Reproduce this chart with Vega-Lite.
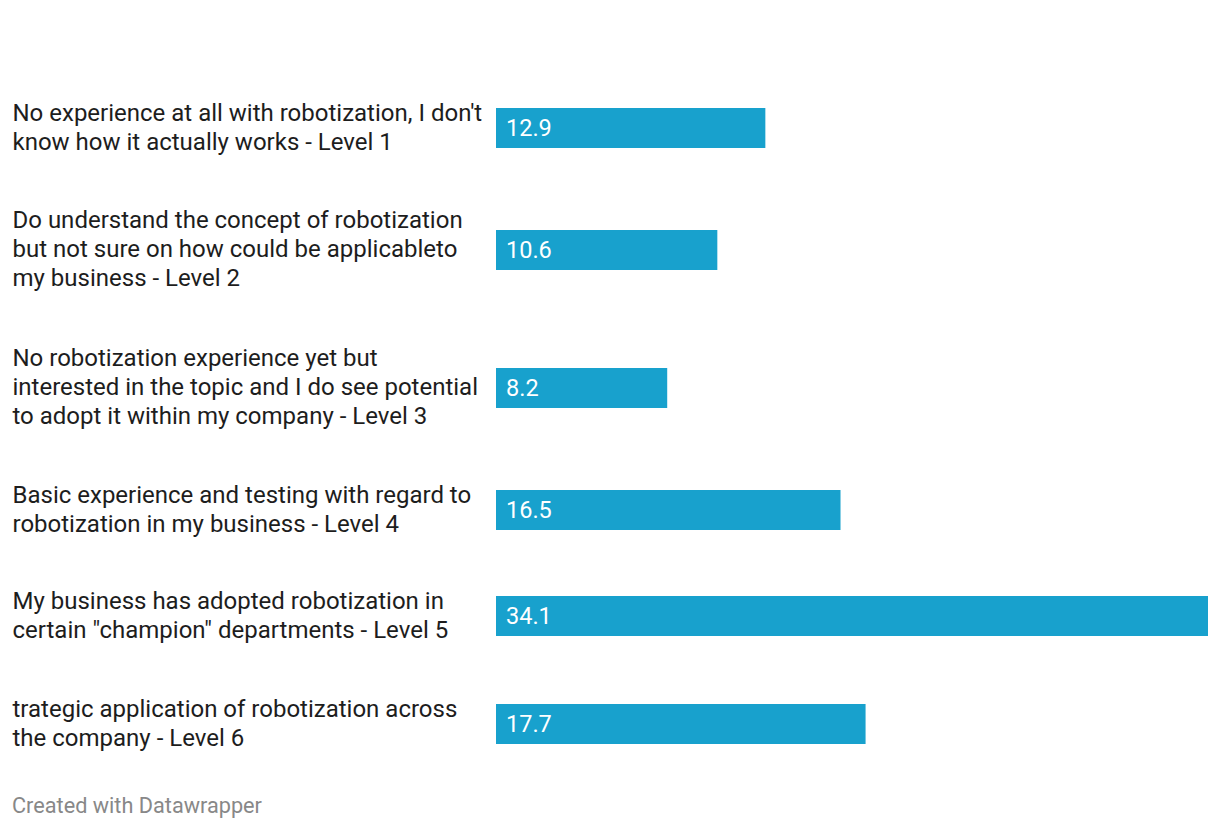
{
  "$schema": "https://vega.github.io/schema/vega-lite/v6.json",
  "padding": {"left": 12, "top": 75, "right": 12, "bottom": 10},
  "background": "white",
  "data": {"values": [
    {"level": 1, "label": "No experience at all with robotization, I don't|know how it actually works - Level 1", "value": 12.9},
    {"level": 2, "label": "Do understand the concept of robotization|but not sure on how could be applicableto|my business - Level 2", "value": 10.6},
    {"level": 3, "label": "No robotization experience yet but|interested in the topic and I do see potential|to adopt it within my company - Level 3", "value": 8.2},
    {"level": 4, "label": "Basic experience and testing with regard to|robotization in my business - Level 4", "value": 16.5},
    {"level": 5, "label": "My business has adopted robotization in|certain \"champion\" departments - Level 5", "value": 34.1},
    {"level": 6, "label": "trategic application of robotization across|the company - Level 6", "value": 17.7}
  ]},
  "title": {
    "text": "Created with Datawrapper",
    "orient": "bottom",
    "anchor": "start",
    "offset": 34,
    "baseline": "alphabetic",
    "font": "Roboto",
    "fontSize": 21.7,
    "fontWeight": "normal",
    "color": "#888888"
  },
  "spacing": 0,
  "vconcat": [
    {"width": 712, "height": 106, "transform": [{"filter": "datum.level == 1"}],
     "encoding": {"y": {"field": "label", "type": "nominal", "title": null, "axis": {"labelOffset": -14.5}}},
     "layer": [
       {"mark": {"type": "bar", "height": 40, "color": "#18a1cd"}, "encoding": {"x": {"field": "value", "type": "quantitative", "scale": {"domain": [0, 34.1], "nice": false}, "axis": null}}},
       {"mark": {"type": "text", "align": "left", "baseline": "middle", "dx": 10, "dy": 1, "fontSize": 23.5, "font": "Roboto", "color": "white"}, "encoding": {"x": {"datum": 0, "type": "quantitative"}, "text": {"field": "value", "type": "quantitative", "format": ".1f"}}}
     ]},
    {"width": 712, "height": 138, "transform": [{"filter": "datum.level == 2"}],
     "encoding": {"y": {"field": "label", "type": "nominal", "title": null, "axis": {"labelOffset": -29}}},
     "layer": [
       {"mark": {"type": "bar", "height": 40, "color": "#18a1cd"}, "encoding": {"x": {"field": "value", "type": "quantitative", "scale": {"domain": [0, 34.1], "nice": false}, "axis": null}}},
       {"mark": {"type": "text", "align": "left", "baseline": "middle", "dx": 10, "dy": 1, "fontSize": 23.5, "font": "Roboto", "color": "white"}, "encoding": {"x": {"datum": 0, "type": "quantitative"}, "text": {"field": "value", "type": "quantitative", "format": ".1f"}}}
     ]},
    {"width": 712, "height": 138, "transform": [{"filter": "datum.level == 3"}],
     "encoding": {"y": {"field": "label", "type": "nominal", "title": null, "axis": {"labelOffset": -29}}},
     "layer": [
       {"mark": {"type": "bar", "height": 40, "color": "#18a1cd"}, "encoding": {"x": {"field": "value", "type": "quantitative", "scale": {"domain": [0, 34.1], "nice": false}, "axis": null}}},
       {"mark": {"type": "text", "align": "left", "baseline": "middle", "dx": 10, "dy": 1, "fontSize": 23.5, "font": "Roboto", "color": "white"}, "encoding": {"x": {"datum": 0, "type": "quantitative"}, "text": {"field": "value", "type": "quantitative", "format": ".1f"}}}
     ]},
    {"width": 712, "height": 106, "transform": [{"filter": "datum.level == 4"}],
     "encoding": {"y": {"field": "label", "type": "nominal", "title": null, "axis": {"labelOffset": -14.5}}},
     "layer": [
       {"mark": {"type": "bar", "height": 40, "color": "#18a1cd"}, "encoding": {"x": {"field": "value", "type": "quantitative", "scale": {"domain": [0, 34.1], "nice": false}, "axis": null}}},
       {"mark": {"type": "text", "align": "left", "baseline": "middle", "dx": 10, "dy": 1, "fontSize": 23.5, "font": "Roboto", "color": "white"}, "encoding": {"x": {"datum": 0, "type": "quantitative"}, "text": {"field": "value", "type": "quantitative", "format": ".1f"}}}
     ]},
    {"width": 712, "height": 106, "transform": [{"filter": "datum.level == 5"}],
     "encoding": {"y": {"field": "label", "type": "nominal", "title": null, "axis": {"labelOffset": -14.5}}},
     "layer": [
       {"mark": {"type": "bar", "height": 40, "color": "#18a1cd"}, "encoding": {"x": {"field": "value", "type": "quantitative", "scale": {"domain": [0, 34.1], "nice": false}, "axis": null}}},
       {"mark": {"type": "text", "align": "left", "baseline": "middle", "dx": 10, "dy": 1, "fontSize": 23.5, "font": "Roboto", "color": "white"}, "encoding": {"x": {"datum": 0, "type": "quantitative"}, "text": {"field": "value", "type": "quantitative", "format": ".1f"}}}
     ]},
    {"width": 712, "height": 110, "transform": [{"filter": "datum.level == 6"}],
     "encoding": {"y": {"field": "label", "type": "nominal", "title": null, "axis": {"labelOffset": -14.5}}},
     "layer": [
       {"mark": {"type": "bar", "height": 40, "color": "#18a1cd"}, "encoding": {"x": {"field": "value", "type": "quantitative", "scale": {"domain": [0, 34.1], "nice": false}, "axis": null}}},
       {"mark": {"type": "text", "align": "left", "baseline": "middle", "dx": 10, "dy": 1, "fontSize": 23.5, "font": "Roboto", "color": "white"}, "encoding": {"x": {"datum": 0, "type": "quantitative"}, "text": {"field": "value", "type": "quantitative", "format": ".1f"}}}
     ]}
  ],
  "config": {
    "view": {"stroke": null},
    "axisY": {
      "labelExpr": "split(datum.label, '|')",
      "labelAlign": "left",
      "labelBaseline": "middle",
      "labelPadding": 484,
      "labelFont": "Roboto",
      "labelFontSize": 24,
      "labelLineHeight": 29,
      "labelColor": "#1d1d1d",
      "labelLimit": 0,
      "domain": false,
      "ticks": false,
      "tickSize": 0,
      "grid": false
    }
  }
}
